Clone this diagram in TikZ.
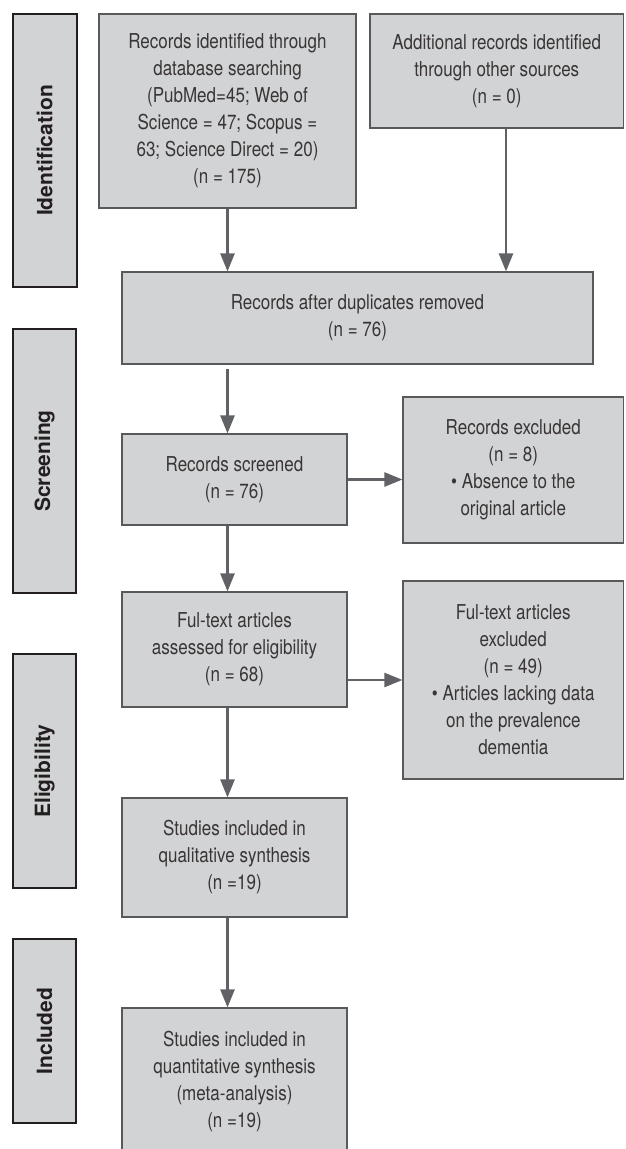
\documentclass[tikz,border=0pt]{standalone}
\usepackage{fontspec}
\setmainfont{TeX Gyre Heros}[FakeStretch=0.83]
\newfontfamily\barfont{TeX Gyre Heros}
\usetikzlibrary{arrows.meta}
\definecolor{boxfill}{HTML}{D1D3D4}
\definecolor{boxline}{HTML}{58595B}
\definecolor{arrowc}{HTML}{616265}
\definecolor{txt}{HTML}{231F20}
\tikzset{
  flowbox/.style={draw=boxline, line width=1.1pt, fill=boxfill, inner sep=0pt,
    align=center, text=txt!90, font=\fontsize{20.5}{27}\selectfont},
  phasebar/.style={draw=txt, line width=2pt, fill=boxfill, inner sep=0pt,
    rotate=90, text=txt, font=\barfont\bfseries\fontsize{21}{25}\selectfont},
  flowarrow/.style={draw=arrowc, line width=2.4pt, -{Triangle[width=14pt,length=18pt]}},
}
\begin{document}
\begin{tikzpicture}[x=1pt,y=-1pt]
\clip (0,0) rectangle (625,1149);
\fill[white] (0,0) rectangle (625,1149);
% phase bars
\node[phasebar, minimum width=273pt, minimum height=63.5pt] (pid) at (44.75,150.5) {Identification};
\node[phasebar, minimum width=264pt, minimum height=63pt] (pscr) at (44.5,461) {Screening};
\node[phasebar, minimum width=234pt, minimum height=63pt] (pelig) at (44.5,771) {Eligibility};
\node[phasebar, minimum width=184pt, minimum height=63pt] (pincl) at (44.5,1031) {Included};
% boxes
\node[flowbox, minimum width=257pt, minimum height=194pt] (b1) at (227.5,111)
  {Records identified through\\database searching\\(PubMed=45; Web of\\Science = 47; Scopus =\\63; Science Direct = 20)\\(n = 175)};
\node[flowbox, minimum width=253.5pt, minimum height=114pt] (b2) at (496.75,71)
  {Additional records identified\\through other sources\\(n = 0)};
\node[flowbox, minimum width=471pt, minimum height=92pt] (b3) at (357.5,318)
  {Records after duplicates removed\\(n = 76)};
\node[flowbox, minimum width=225pt, minimum height=91pt] (b4) at (234.5,479.5)
  {Records screened\\(n = 76)};
\node[flowbox, minimum width=220.5pt, minimum height=146pt] (b5) at (513.25,470)
  {Records excluded\\(n = 8)\\\textbullet\ Absence to the\\original article};
\node[flowbox, minimum width=225pt, minimum height=115pt] (b6) at (234.5,649.5)
  {Ful-text articles\\assessed for eligibility\\(n = 68)};
\node[flowbox, minimum width=220.5pt, minimum height=198pt] (b7) at (513.25,680)
  {Ful-text articles\\excluded\\(n = 49)\\\textbullet\ Articles lacking data\\on the prevalence\\dementia};
\node[flowbox, minimum width=225pt, minimum height=119pt] (b8) at (234.5,857.5)
  {Studies included in\\qualitative synthesis\\(n =19)};
\node[flowbox, minimum width=225pt, minimum height=148pt] (b9) at (234.5,1082)
  {Studies included in\\quantitative synthesis\\(meta-analysis)\\(n =19)};
% connectors
\draw[flowarrow] (b1.south) -- (b1.south |- b3.north);
\draw[flowarrow] ([xshift=9.25pt]b2.south) -- ([xshift=9.25pt]b2.south |- b3.north);
\draw[flowarrow] ([yshift=-4pt]b1.south |- b3.south) -- (b1.south |- b4.north);
\draw[flowarrow] (b4.east) -- (b5.west |- b4.east);
\draw[flowarrow] (b1.south |- b4.south) -- (b1.south |- b6.north);
\draw[flowarrow] (b6.east |- b7.west) -- (b7.west);
\draw[flowarrow] (b1.south |- b6.south) -- (b1.south |- b8.north);
\draw[flowarrow] (b1.south |- b8.south) -- (b1.south |- b9.north);
\end{tikzpicture}
\end{document}
